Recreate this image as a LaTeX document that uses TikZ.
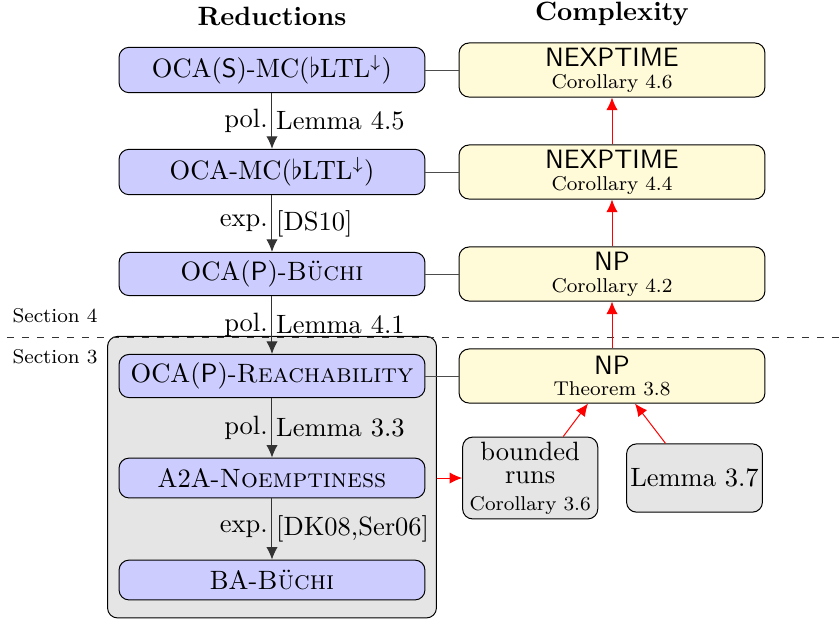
\documentclass[tikz,border=0pt]{standalone}
\usepackage{amsmath}
\usepackage{amssymb}
\usetikzlibrary{arrows.meta, positioning, fit, backgrounds}
\definecolor{cpxyellow}{RGB}{255,250,215}
\newcommand{\mainsize}{\fontsize{10.6}{12.7}\selectfont}
\tikzset{node distance = 1.434cm and 4.78cm, on grid,
	 >= {Latex[length=5pt, width=4.5pt]},
	 every node/.style = {font = \mainsize},
	 redbox/.style = {draw, rounded corners = 4pt, fill = blue!20,
			  minimum width = 4.3cm, minimum height = 0.56cm},
	 cpxbox/.style = {draw, rounded corners = 4pt, fill = cpxyellow,
			  align = center, inner sep = 1pt,
			  minimum width = 4.3cm, minimum height = 0.76cm},
	 factbox/.style = {draw, rounded corners = 4pt, fill = gray!20,
			   align = center, inner sep = 1pt},
	 reduc/.style = {->, black!80,
			 every node/.style = {font = \mainsize, text = black, inner sep = 1.5pt}},
	 impl/.style = {->, red},
	 link/.style = {black!70}}

\begin{document}
\begin{tikzpicture}
      \useasboundingbox (-108.8pt,-219.2pt) rectangle (226.8pt,28pt);
      % reductions
      \node [redbox] (r1) {OCA(\textsf{S})-MC($\flat$LTL$^{\downarrow}$)};
      \node [redbox] (r2) [below = of r1] {OCA-MC($\flat$LTL$^{\downarrow}$)};
      \node [redbox] (r3) [below = of r2] {OCA(\textsf{P})-\textsc{B\"uchi}};
      \node [redbox] (r4) [below = of r3] {OCA(\textsf{P})-\textsc{Reachability}};
      \node [redbox] (r5) [below = of r4] {A2A-\textsc{Noemptiness}};
      \node [redbox] (r6) [below = of r5] {BA-\textsc{B\"uchi}};
      % complexity
      \node [cpxbox] (c1) [right = of r1] {\textsf{NEXPTIME}\\[-4pt]{\footnotesize Corollary 4.6}};
      \node [cpxbox] (c2) [right = of r2] {\textsf{NEXPTIME}\\[-4pt]{\footnotesize Corollary 4.4}};
      \node [cpxbox] (c3) [right = of r3] {\textsf{NP}\\[-4pt]{\footnotesize Corollary 4.2}};
      \node [cpxbox] (c4) [right = of r4] {\textsf{NP}\\[-4pt]{\footnotesize Theorem 3.8}};
      \node [factbox, minimum width = 1.9cm, minimum height = 1.15cm] (bnd)
	    [right = 3.63cm of r5] {bounded\\[-3.5pt]runs\\[-2pt]{\footnotesize Corollary 3.6}};
      \node [factbox, minimum width = 1.91cm, minimum height = 0.96cm] (lem)
	    [right = 2.31cm of bnd] {Lemma 3.7};
      % headers and sections
      \node [font = \mainsize\bfseries] (hred) [above = 21.6pt of r1] {Reductions};
      \node [font = \mainsize\bfseries] (hcpx) [above = 22.6pt of c1] {Complexity};
      \node [font = \footnotesize] (s4) at (-86.8pt,-98.4pt) {Section 4};
      \node [font = \footnotesize] (s3) at (-86.8pt,-114.8pt) {Section 3};
      \draw [dashed, black!80] (-106pt,-106.8pt) -- (226.8pt,-106.8pt);
      \begin{scope}[on background layer]
	\node [draw, fill = gray!20, rounded corners = 4pt, fit = (r4) (r6),
	       inner xsep = 4.4pt, inner ysep = 7pt] (sec3) {};
      \end{scope}
      \path[reduc] (r1) edge node[left] {pol.} node[right] {Lemma 4.5} (r2)
		   (r2) edge node[left] {exp.} node[right] {[DS10]} (r3)
		   (r3) edge node[left] {pol.} node[right] {Lemma 4.1} (r4)
		   (r4) edge node[left] {pol.} node[right] {Lemma 3.3} (r5)
		   (r5) edge node[left] {exp.} node[right] {[DK08,Ser06]} (r6);
      \path[link] (r1) edge (c1)
		  (r2) edge (c2)
		  (r3) edge (c3)
		  (r4) edge (c4);
      \path[impl] (c4) edge (c3)
		  (c3) edge (c2)
		  (c2) edge (c1);
      \draw[impl] (r5.east -| sec3.east) -- (bnd.west);
      \draw[impl] ([xshift = 13.2pt]bnd.north) -- ([xshift = -9.6pt]c4.south);
      \draw[impl] ([xshift = -11.6pt]lem.north) -- ([xshift = 9.2pt]c4.south);
\end{tikzpicture}
\end{document}
